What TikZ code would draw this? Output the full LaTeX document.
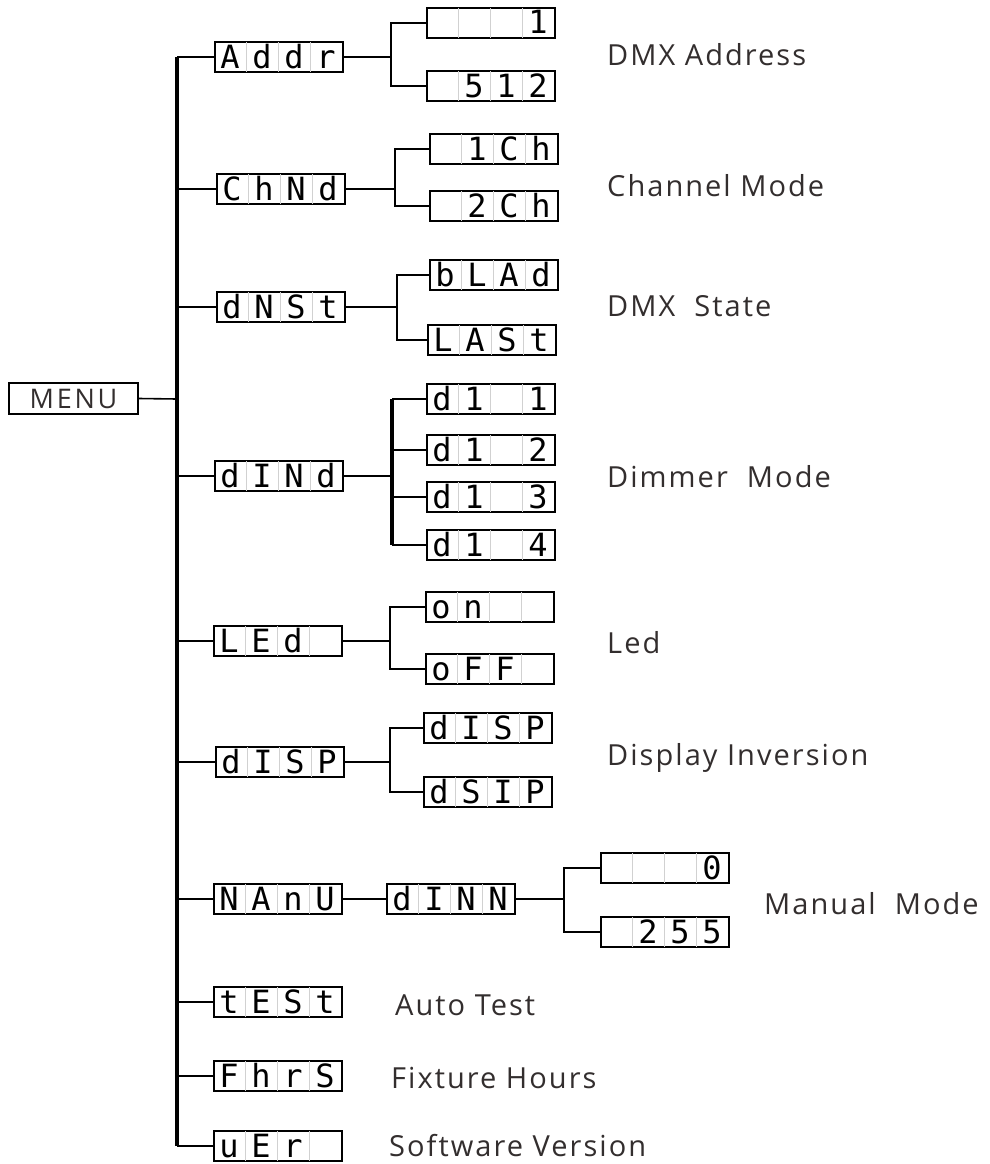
\documentclass[tikz,border=0pt]{standalone}
\usepackage{fontspec}
\setmainfont{Open Sans}
\newfontfamily\segfont{DejaVu Sans Mono}
\usetikzlibrary{calc}
\definecolor{labelgray}{HTML}{332E2E}
\tikzset{
  segframe/.style={draw,line width=2pt,minimum width=128pt,minimum height=30pt,inner sep=0pt},
  segsep/.style={draw=black!18,line width=0.9pt},
  segchar/.style={anchor=base,inner sep=0pt,font=\segfont\fontsize{32}{32}\selectfont},
  branch/.style={line width=1.6pt},
  spine/.style={line width=3.2pt},
  caption/.style={anchor=base west,inner sep=0pt,text=labelgray,font=\fontsize{29}{34}\selectfont\addfontfeature{LetterSpace=7}}
}
\newcommand\segbox[6]{%
  \node[segframe](#1)at(#2){};
  \foreach \k in {1,2,3}
    \draw[segsep]($(#1.north west)+(32*\k,1.2)$)--($(#1.south west)+(32*\k,-1.2)$);
  \node[segchar]at($(#1.west)+(16,11)$){#3};
  \node[segchar]at($(#1.west)+(48,11)$){#4};
  \node[segchar]at($(#1.west)+(80,11)$){#5};
  \node[segchar]at($(#1.west)+(112,11)$){#6};
}
\begin{document}
\begin{tikzpicture}[x=1pt,y=-1pt]
        \useasboundingbox(0,0)rectangle(990,1164);
        \node[draw,line width=1.5pt,minimum width=129pt,minimum height=31pt,inner sep=0pt,text=labelgray,
              font=\fontsize{27}{27}\selectfont\addfontfeature{LetterSpace=10}](menu)at(73.5,398.5){MENU};
        \coordinate(root)at(177,399);
        \segbox{addr}{279,57}{A}{d}{d}{r}
        \segbox{chnd}{281,189}{C}{h}{N}{d}
        \segbox{dnst}{281,307}{d}{N}{S}{t}
        \segbox{dind}{279,476}{d}{I}{N}{d}
        \segbox{led}{278,641}{L}{E}{d}{}
        \segbox{disp}{280,762}{d}{I}{S}{P}
        \segbox{manu}{278,899}{N}{A}{n}{U}
        \segbox{test}{278,1002}{t}{E}{S}{t}
        \segbox{fhrs}{278,1076}{F}{h}{r}{S}
        \segbox{ver}{278,1146}{u}{E}{r}{}
        \segbox{a1}{491,23}{}{}{}{1}
        \segbox{a2}{491,86}{}{5}{1}{2}
        \segbox{c1}{494,149}{}{1}{C}{h}
        \segbox{c2}{494,206}{}{2}{C}{h}
        \segbox{s1}{494,275}{b}{L}{A}{d}
        \segbox{s2}{492,340}{L}{A}{S}{t}
        \segbox{d1}{491,399}{d}{1}{}{1}
        \segbox{d2}{491,450}{d}{1}{}{2}
        \segbox{d3}{491,497}{d}{1}{}{3}
        \segbox{d4}{491,545}{d}{1}{}{4}
        \segbox{l1}{490,607}{o}{n}{}{}
        \segbox{l2}{490,669}{o}{F}{F}{}
        \segbox{p1}{488,728}{d}{I}{S}{P}
        \segbox{p2}{488,792}{d}{S}{I}{P}
        \segbox{dinn}{451,899}{d}{I}{N}{N}
        \segbox{m1}{665,868}{}{}{}{0}
        \segbox{m2}{665,932}{}{2}{5}{5}
        \draw[branch](menu.east)--(root);
        \draw[spine](root|-addr.west)--(root|-ver.west);
        \foreach \n in {addr,chnd,dnst,dind,led,disp,manu,test,fhrs,ver}
          \draw[branch](root|-\n.west)--(\n.west);
        \coordinate(ja)at([xshift=47pt]addr.east);
        \coordinate(jc)at([xshift=49pt]chnd.east);
        \coordinate(js)at([xshift=51pt]dnst.east);
        \coordinate(jd)at([xshift=48pt]dind.east);
        \coordinate(jl)at([xshift=47pt]led.east);
        \coordinate(jp)at([xshift=45pt]disp.east);
        \coordinate(jm)at([xshift=48pt]dinn.east);
        \draw[branch](addr.east)--(ja);
        \draw[branch](a1.west)-|(ja)|-(a2.west);
        \draw[branch](chnd.east)--(jc);
        \draw[branch](c1.west)-|(jc)|-(c2.west);
        \draw[branch](dnst.east)--(js);
        \draw[branch](s1.west)-|(js)|-(s2.west);
        \draw[branch](dind.east)--(jd);
        \draw[spine](jd|-d1.west)--(jd|-d4.west);
        \foreach \n in {d1,d2,d3,d4}
          \draw[branch](jd|-\n.west)--(\n.west);
        \draw[branch](led.east)--(jl);
        \draw[branch](l1.west)-|(jl)|-(l2.west);
        \draw[branch](disp.east)--(jp);
        \draw[branch](p1.west)-|(jp)|-(p2.west);
        \draw[branch](manu.east)--(dinn.west);
        \draw[branch](dinn.east)--(jm);
        \draw[branch](m1.west)-|(jm)|-(m2.west);
        \node[caption](taddr)at(607,66){DMX Address};
        \node[caption](tchnd)at(607,196){Channel Mode};
        \node[caption](tdnst)at(607,316){DMX~~State};
        \node[caption](tdind)at(607,487){Dimmer~~Mode};
        \node[caption](tled)at(607,653){Led};
        \node[caption](tdisp)at(607,765){Display Inversion};
        \node[caption](tmanu)at(764,914){Manual~~Mode};
        \node[caption](ttest)at(395,1015){Auto Test};
        \node[caption](tfhrs)at(391,1088){Fixture Hours};
        \node[caption](tver)at(389,1156){Software Version};
    \end{tikzpicture}
\end{document}
